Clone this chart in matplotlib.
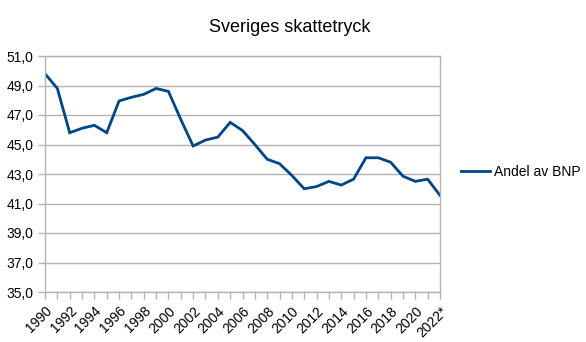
import matplotlib
matplotlib.use('Agg')
import matplotlib.pyplot as plt

plt.rcParams['font.family'] = ['Liberation Sans', 'DejaVu Sans']

# Tax burden, share of GDP (%)
years = list(range(1990, 2023))
year_labels = [str(y) for y in years[:-1]] + ['2022*']
andel_av_bnp = [49.8, 48.8, 45.8, 46.1, 46.3, 45.8, 47.95, 48.2, 48.4, 48.8,
                48.6, 46.7, 44.9, 45.3, 45.5, 46.5, 45.95, 45.0, 44.0, 43.7,
                42.9, 42.0, 42.15, 42.5, 42.25, 42.65, 44.1, 44.1, 43.8, 42.85,
                42.5, 42.65, 41.55]
y_ticks = [35, 37, 39, 41, 43, 45, 47, 49, 51]

fig = plt.figure(figsize=(5.86, 3.42), dpi=100, facecolor='white')
ax = fig.add_axes([45 / 586, 1 - 292 / 342, 395 / 586, 236 / 342])

ax.plot(years, andel_av_bnp, color='#004586', linewidth=2.0, label='Andel av BNP',
        solid_joinstyle='miter')

ax.set_xlim(years[0], years[-1])
ax.set_ylim(35, 51)
ax.set_yticks(y_ticks)
ax.set_yticklabels([f"{v:.1f}".replace('.', ',') for v in y_ticks], fontsize=10)
ax.set_xticks(years)
ax.set_xticklabels([lab if i % 2 == 0 else '' for i, lab in enumerate(year_labels)],
                   rotation=45, ha='right', rotation_mode='anchor', fontsize=10)

ax.grid(axis='y', color='#b3b3b3', linewidth=1.0)
ax.set_axisbelow(True)
for side in ['left', 'right', 'top', 'bottom']:
    ax.spines[side].set_color('#b3b3b3')
    ax.spines[side].set_linewidth(1.0)
ax.tick_params(axis='both', colors='#b3b3b3', labelcolor='black', length=5, width=1.0)

fig.text(290 / 586, 1 - 28 / 342, 'Sveriges skattetryck', ha='center', va='center',
         fontsize=13)

ax.legend(loc='center left', bbox_to_anchor=(461 / 586, 1 - 172 / 342),
          bbox_transform=fig.transFigure, frameon=False, fontsize=10,
          handlelength=2.1, handletextpad=0.25, borderpad=0, borderaxespad=0)

plt.savefig('out.png', dpi=100, facecolor='white')
plt.close()
